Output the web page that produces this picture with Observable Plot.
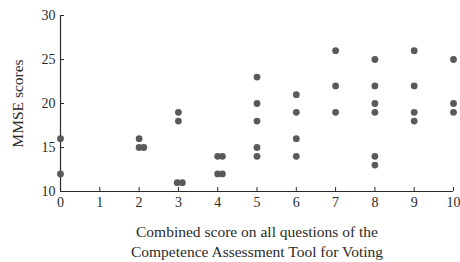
<!DOCTYPE html>
<html><head><meta charset="utf-8">
<script src="https://cdn.jsdelivr.net/npm/d3@7"></script>
<script src="https://cdn.jsdelivr.net/npm/@observablehq/plot@0.6"></script>
<style>body{margin:0;background:#fff}</style>
</head><body><div id="chart"></div>
<script>
// Combined score (x, with small horizontal offsets where points overlap) and MMSE score (y)
const scores = [0, 0, 2, 2, 2.12, 3, 3, 2.97, 3.1, 4, 4.12, 4, 4.12, 5, 5, 5, 5, 5, 6, 6, 6, 6, 7, 7, 7, 8, 8, 8, 8, 8, 8, 9, 9, 9, 9, 10, 10, 10];
const mmse   = [16, 12, 16, 15, 15, 19, 18, 11, 11, 14, 14, 12, 12, 23, 20, 18, 15, 14, 21, 19, 16, 14, 26, 22, 19, 25, 22, 20, 19, 14, 13, 26, 22, 19, 18, 25, 20, 19];
const xTicks = [0, 1, 2, 3, 4, 5, 6, 7, 8, 9, 10];
const yTicks = [10, 15, 20, 25, 30];
const xLabel = "Combined score on all questions of the\nCompetence Assessment Tool for Voting";
const yLabel = "MMSE scores";

const data = scores.map((s, i) => ({score: s, mmse: mmse[i]}));
const ink = "#2a2a2a";

const chart = Plot.plot({
  width: 460,
  height: 262,
  marginLeft: 60,
  marginRight: 7,
  marginTop: 15,
  marginBottom: 71,
  style: {fontFamily: "'Liberation Serif', serif", fontSize: "14px", color: ink, background: "#fff"},
  x: {domain: [0, 10]},
  y: {domain: [10, 30]},
  marks: [
    Plot.axisX({ticks: xTicks, tickSize: -4, tickPadding: 10, label: null, stroke: ink, fill: ink, fontSize: 14}),
    Plot.axisY({ticks: yTicks, tickSize: -4, tickPadding: 9, label: null, stroke: ink, fill: ink, fontSize: 14}),
    Plot.ruleY([10], {stroke: ink, strokeWidth: 1.2}),
    Plot.ruleX([0], {stroke: ink, strokeWidth: 1.2}),
    Plot.dot(data, {x: "score", y: "mmse", r: 3.4, fill: "#5a5a5a", stroke: "none"}),
    Plot.text([xLabel], {frameAnchor: "bottom", lineAnchor: "middle", dy: 49, fontSize: 15.5, lineHeight: 1.3, fill: ink}),
    Plot.text([yLabel], {frameAnchor: "left", textAnchor: "middle", dx: -42, rotate: -90, fontSize: 15.5, fill: ink})
  ]
});
document.getElementById("chart").appendChild(chart);
</script>
</body></html>
